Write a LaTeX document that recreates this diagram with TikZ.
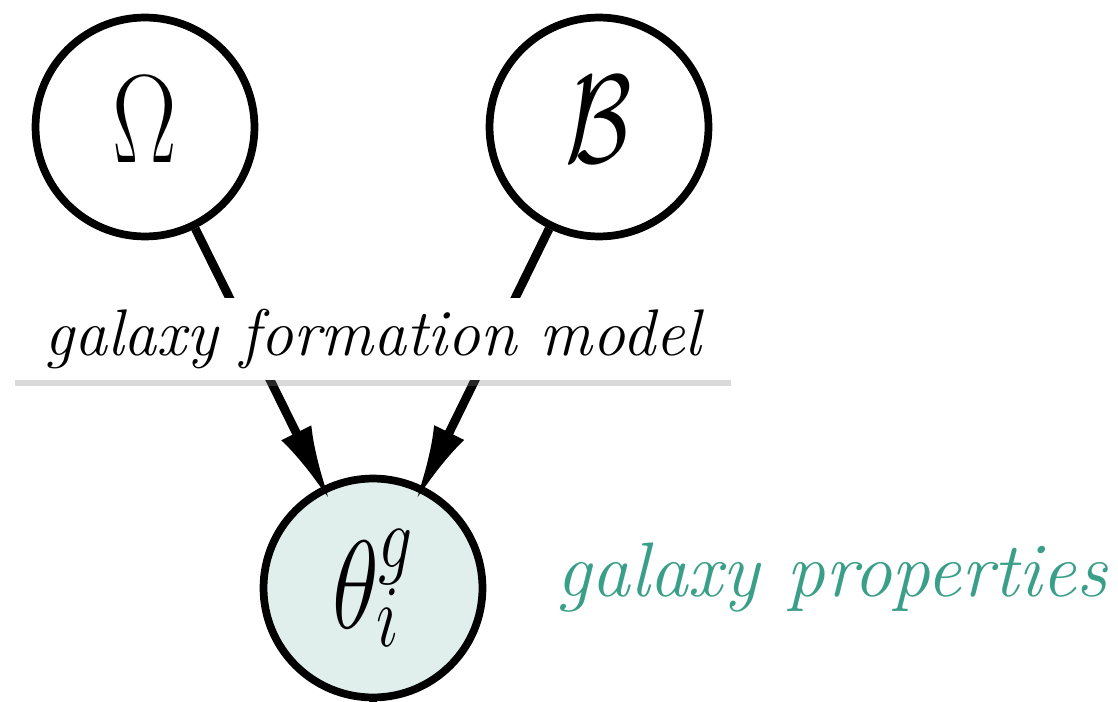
\RequirePackage{fix-cm}
\documentclass[tikz,border=0pt]{standalone}
\usepackage{graphicx}
\usetikzlibrary{arrows.meta,shadows}

\definecolor{propteal}{HTML}{3A9F88}
\definecolor{propfill}{HTML}{E0EFEC}

\newcommand{\tallmath}[1]{\scalebox{1}[1.3]{$#1$}}

\begin{document}
\begin{tikzpicture}[->,>={Latex[length=44pt,width=19pt]},x=0.02cm,y=-0.02cm,
  line width=4.4pt,
  var node/.style={circle,draw,minimum size=4.38cm,inner sep=0pt,
    font=\fontsize{55}{60}\selectfont},
  param node/.style={var node,text depth=8pt},
  latent node/.style={var node,fill=propfill},
  model label/.style={rectangle,fill=white,minimum width=14.34cm,minimum height=1.66cm,
    drop shadow={shadow xshift=0pt,shadow yshift=-3pt,opacity=0.3},
    font=\fontsize{37.5}{42}\selectfont\itshape},
  prop label/.style={text=propteal,font=\fontsize{44}{48}\selectfont\itshape}]

  \useasboundingbox (0,0) rectangle (1118,702);

  \node[param node] (omega) at (145,127) {\tallmath{\Omega}};
  \node[param node] (bary) at (599,127) {\tallmath{\mathcal{B}}};
  \node[latent node] (theta) at (373,588) {\raisebox{5pt}{\tallmath{\theta_i^g}}};
  \node[prop label] (props) at (832,578) {galaxy properties};
  \coordinate (below) at (373,702);

  \path[line width=5pt,shorten >=-10pt]
  (omega) edge node {} (theta)
  (bary) edge node {} (theta);
  \draw[-] (theta) -- (below);

  \node[model label] (gfm) at (373,339) {galaxy formation model};

\end{tikzpicture}
\end{document}
